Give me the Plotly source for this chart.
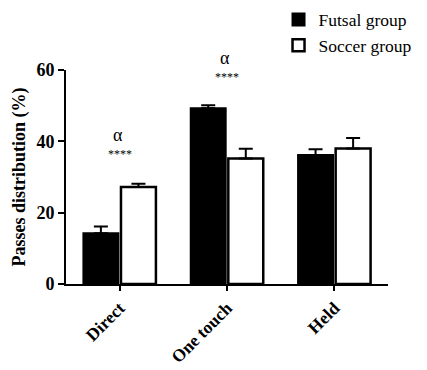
import plotly.graph_objects as go

categories = ["Direct", "One touch", "Held"]
futsal = [14.2, 49.3, 36.2]
futsal_err = [1.9, 0.8, 1.6]
soccer = [27.2, 35.2, 38.0]
soccer_err = [0.9, 2.7, 2.9]
sig_cats = ["Direct", "One touch"]
sig_level = [38.8, 60.2]   # boundary between the "α" and "****" marks
Y_MAX = 60

SERIF = "'Liberation Serif', 'Times New Roman', Times, serif"

fig = go.Figure()
fig.add_trace(go.Bar(
    x=categories, y=futsal, name="Futsal group",
    marker=dict(color="black", line=dict(color="black", width=2)),
    error_y=dict(type="data", array=futsal_err, arrayminus=[0]*3, symmetric=False,
                 color="black", thickness=2, width=7),
))
fig.add_trace(go.Bar(
    x=categories, y=soccer, name="Soccer group",
    marker=dict(color="white", line=dict(color="black", width=2.5)),
    error_y=dict(type="data", array=soccer_err, arrayminus=[0]*3, symmetric=False,
                 color="black", thickness=2, width=7),
))

for c, lv in zip(sig_cats, sig_level):
    fig.add_annotation(x=c, xref="x", y=lv / Y_MAX, yref="paper", yanchor="bottom",
                       text="α", showarrow=False, xshift=-2, borderpad=0,
                       font=dict(family=SERIF, size=18, color="black"))
    fig.add_annotation(x=c, xref="x", y=lv / Y_MAX, yref="paper", yanchor="top",
                       text="****", showarrow=False, borderpad=0,
                       font=dict(family=SERIF, size=12, color="black"))

fig.update_layout(
    width=427, height=370,
    margin=dict(l=66, r=39, t=70, b=86, autoexpand=False),
    plot_bgcolor="white", paper_bgcolor="white",
    barmode="group", bargap=0.3, bargroupgap=0.07,
    font=dict(family=SERIF, color="black"),
    showlegend=True,
    legend=dict(x=0.66, y=1.32, xanchor="left", yanchor="top",
                font=dict(family=SERIF, size=17.5, color="black"),
                bgcolor="rgba(0,0,0,0)", tracegroupgap=0),
    xaxis=dict(range=[-0.5, 2.5], showline=True, linecolor="black", linewidth=2,
               ticks="outside", ticklen=5, tickwidth=2, tickcolor="black",
               tickangle=-45, showgrid=False, automargin=False,
               tickfont=dict(family=SERIF, size=17.5, color="black", weight="bold")),
    yaxis=dict(range=[0, Y_MAX], dtick=20, showline=True, linecolor="black", linewidth=2,
               ticks="outside", ticklen=6, tickwidth=2, tickcolor="black",
               showgrid=False, zeroline=False, automargin=False,
               tickfont=dict(family=SERIF, size=18, color="black", weight="bold"),
               title=dict(text="Passes distribution (%)", standoff=6,
                          font=dict(family=SERIF, size=18, color="black", weight="bold"))),
)

fig.write_html("out.html")
